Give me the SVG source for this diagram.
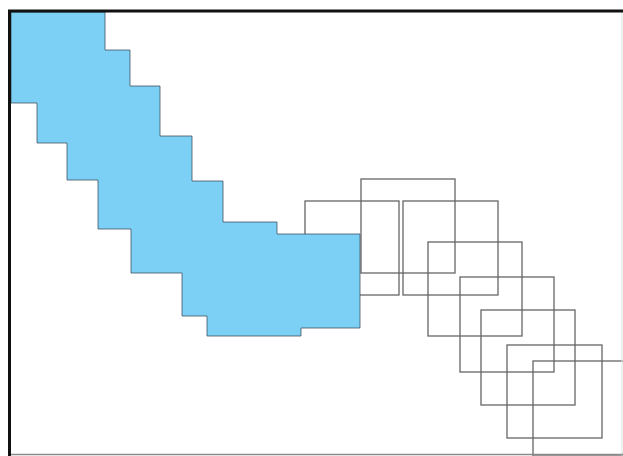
<svg xmlns="http://www.w3.org/2000/svg" width="623" height="456" viewBox="0 0 623 456">
  <style>
    .sq { fill: none; stroke: #666; stroke-width: 1.3; }
    .blue { fill: #7ccff5; stroke: #3a4a55; stroke-width: 1; stroke-opacity: 0.75; }
  </style>
  <rect x="0" y="0" width="623" height="456" fill="#ffffff"/>
  <g id="squares">
    <g id="sq1"><rect class="sq" x="305" y="201" width="94" height="94"/></g>
    <g id="sq2"><rect class="sq" x="361" y="179" width="94" height="94"/></g>
    <g id="sq3"><rect class="sq" x="403" y="201" width="95" height="94"/></g>
    <g id="sq4"><rect class="sq" x="428" y="242" width="94" height="94"/></g>
    <g id="sq5"><rect class="sq" x="460" y="277" width="94" height="95"/></g>
    <g id="sq6"><rect class="sq" x="481" y="310" width="94" height="95"/></g>
    <g id="sq7"><rect class="sq" x="507" y="345" width="95" height="93"/></g>
    <g id="sq8"><rect class="sq" x="533" y="361" width="94" height="95"/></g>
  </g>
  <g id="staircase">
    <polygon class="blue" points="11,12 105,12 105,50 130,50 130,86 160,86 160,136 192,136 192,181 223,181 223,222 277,222 277,234 360,234 360,328 301,328 301,336 207,336 207,316 182,316 182,273 131,273 131,229 98,229 98,180 67,180 67,143 37,143 37,103 11,103"/>
  </g>
  <g id="connectors"></g>
  <g id="frame">
    <line x1="622" y1="10" x2="622" y2="456" stroke="#e2e2e2" stroke-width="1"/>
    <line x1="9" y1="454.5" x2="623" y2="454.5" stroke="#8a8a8a" stroke-width="1.5"/>
    <line x1="8" y1="11" x2="623" y2="11" stroke="#111" stroke-width="3"/>
    <line x1="9.5" y1="10" x2="9.5" y2="456" stroke="#111" stroke-width="3"/>
  </g>
</svg>
